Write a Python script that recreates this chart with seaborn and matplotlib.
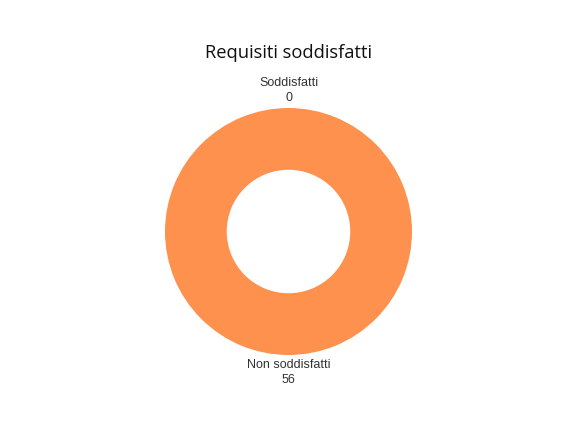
import numpy as np
import matplotlib
matplotlib.use("Agg")
import matplotlib.pyplot as plt
import seaborn as sns

# data
categories = ["Soddisfatti", "Non soddisfatti"]
values = [0, 56]
title = "Requisiti soddisfatti"

sns.set_theme(style="white")
plt.rcParams['font.family'] = ['Liberation Sans', 'DejaVu Sans']

colors = ["#4e79a7", "#fe914d"]

W, H = 577, 433
fig = plt.figure(figsize=(W / 100, H / 100), dpi=100)
fig.patch.set_facecolor("white")

# donut centre and radius in pixels
cx, cy, r = 288.5, 231.5, 123.5
ax = fig.add_axes([(cx - r) / W, 1 - (cy + r) / H, 2 * r / W, 2 * r / H])

wedges, _ = ax.pie(values, colors=colors, startangle=90, counterclock=False,
                   radius=1.0, wedgeprops=dict(width=0.5, linewidth=0))
ax.set_xlim(-1, 1)
ax.set_ylim(-1, 1)
ax.set_aspect("equal")
ax.axis("off")

# labels outside each wedge
for w, cat, val in zip(wedges, categories, values):
    ang = np.deg2rad((w.theta1 + w.theta2) / 2)
    x, y = np.cos(ang), np.sin(ang)
    if y >= 0:
        ax.text(x * 1.03, y * 1.03, f"{cat}\n{val}", ha="center", va="bottom",
                fontsize=9, color="#333333", linespacing=1.35, clip_on=False)
    else:
        ax.text(x * 1.03, y * 1.03, f"{cat}\n{val}", ha="center", va="top",
                fontsize=9, color="#333333", linespacing=1.35, clip_on=False)

fig.text(288.5 / W, 1 - 53 / H, title, ha="center", va="center",
         fontsize=13.2, color="#111111", family=["Open Sans", "DejaVu Sans"])

fig.savefig("out.png", dpi=100, facecolor="white")
